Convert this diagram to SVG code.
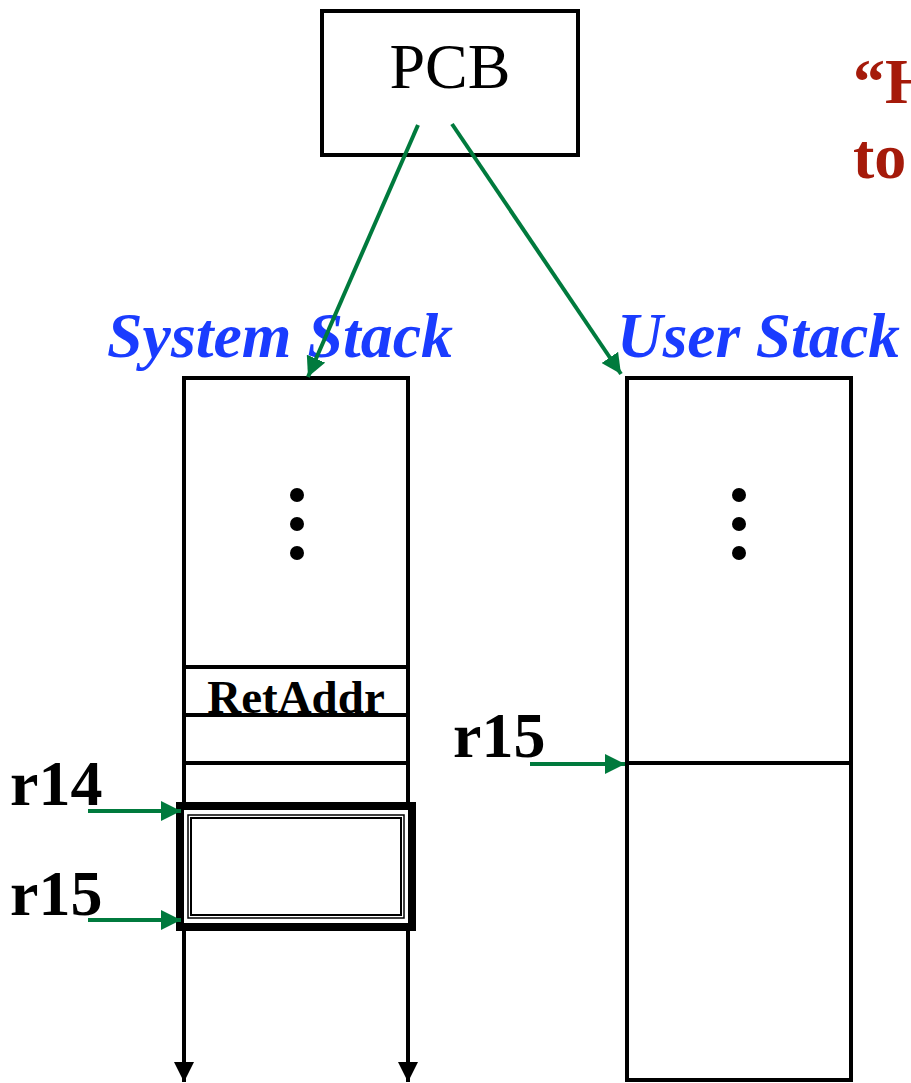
<svg xmlns="http://www.w3.org/2000/svg" width="911" height="1083" viewBox="0 0 911 1083">
<style>
.box{fill:none;stroke:#000;stroke-width:4}
.g{stroke:#007a3d;stroke-width:4;fill:none}
.k{stroke:#000;stroke-width:4;fill:none}
.lbl{font-family:"Liberation Serif",serif;font-weight:bold;font-size:64px;fill:#000}
.blue{font-family:"Liberation Serif",serif;font-weight:bold;font-style:italic;font-size:64px;fill:#1a3cff}
.red{font-family:"Liberation Serif",serif;font-weight:bold;font-size:64px;fill:#a51a0a}
</style>
<defs>
<marker id="ga" viewBox="0 0 10 10" refX="10" refY="5" markerWidth="5" markerHeight="5" orient="auto" markerUnits="strokeWidth"><path d="M0,0L10,5L0,10z" fill="#007a3d"/></marker>
<marker id="ka" viewBox="0 0 10 10" refX="10" refY="5" markerWidth="5" markerHeight="5" orient="auto" markerUnits="strokeWidth"><path d="M0,0L10,5L0,10z" fill="#000"/></marker>
</defs>
<g id="pcb">
<rect x="322" y="11" width="256" height="144" class="box"/>
<text x="450" y="88" text-anchor="middle" font-family="Liberation Serif,serif" font-size="64">PCB</text>
</g>
<g id="red-text">
<text x="853" y="103" class="red">“H</text>
<text x="853" y="178" class="red">to</text>
</g>
<g id="system-stack">
<text x="107" y="357" class="blue" textLength="346" lengthAdjust="spacingAndGlyphs">System Stack</text>
<polyline points="184,1062 184,378 408,378 408,1062" class="k"/>
<line x1="184" y1="667" x2="408" y2="667" class="k"/>
<line x1="184" y1="715" x2="408" y2="715" class="k"/>
<line x1="184" y1="763" x2="408" y2="763" class="k"/>
<circle cx="297" cy="495" r="7"/>
<circle cx="297" cy="524" r="7"/>
<circle cx="297" cy="553" r="7"/>
<text x="296" y="713" text-anchor="middle" font-family="Liberation Serif,serif" font-weight="bold" font-size="47">RetAddr</text>
<rect x="180" y="806" width="232" height="121" fill="#fff" stroke="#000" stroke-width="8"/>
<rect x="188" y="815" width="216" height="103" fill="none" stroke="#000" stroke-width="1.5"/>
<rect x="191" y="818" width="210" height="97" fill="none" stroke="#000" stroke-width="2"/>
</g>
<g id="user-stack">
<text x="617" y="357" class="blue" textLength="283" lengthAdjust="spacingAndGlyphs">User Stack</text>
<rect x="627" y="378" width="224" height="702" class="box"/>
<line x1="627" y1="763" x2="851" y2="763" class="k"/>
<circle cx="739" cy="495" r="7"/>
<circle cx="739" cy="524" r="7"/>
<circle cx="739" cy="553" r="7"/>
</g>
<g id="labels">
<text x="453" y="757" class="lbl">r15</text>
<text x="10" y="805" class="lbl">r14</text>
<text x="10" y="915" class="lbl">r15</text>
</g>
<g id="connectors">
<line x1="418" y1="125" x2="308" y2="377" class="g" marker-end="url(#ga)"/>
<line x1="452" y1="124" x2="621" y2="374" class="g" marker-end="url(#ga)"/>
<line x1="530" y1="764" x2="625" y2="764" class="g" marker-end="url(#ga)"/>
<line x1="88" y1="811" x2="181" y2="811" class="g" marker-end="url(#ga)"/>
<line x1="88" y1="920" x2="181" y2="920" class="g" marker-end="url(#ga)"/>
<line x1="184" y1="927" x2="184" y2="1082" class="k" marker-end="url(#ka)"/>
<line x1="408" y1="927" x2="408" y2="1082" class="k" marker-end="url(#ka)"/>
</g>
</svg>
